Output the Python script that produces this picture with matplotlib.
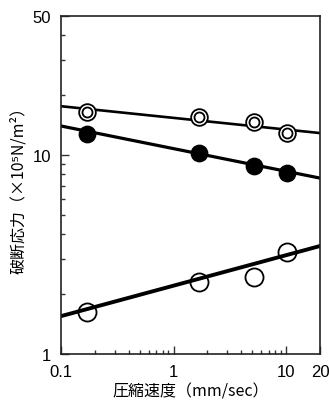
import numpy as np
import matplotlib
matplotlib.use("Agg")
import matplotlib.pyplot as plt
from matplotlib.ticker import LogLocator, FixedLocator, NullFormatter

# =========================
# データ
# =========================
speed = [0.17, 1.7, 5.2, 10.2]            # 圧縮速度 (mm/sec)
stress_double = [16.4, 15.5, 14.6, 12.9]  # 二重丸
stress_filled = [12.7, 10.2, 8.8, 8.1]    # 黒丸
stress_open = [1.63, 2.3, 2.44, 3.25]     # 白丸

# 回帰直線の両端 (x=0.1, x=20)
line_x = [0.1, 20]
line_double = [17.6, 12.9]
line_filled = [14.0, 7.66]
line_open = [1.55, 3.49]

xticks = [0.1, 1, 10, 20]
xtick_labels = ["0.1", "1", "10", "20"]
yticks = [1, 10, 50]
ytick_labels = ["1", "10", "50"]

plt.rcParams["font.family"] = ["Liberation Sans", "DejaVu Sans"]
jp = ["Noto Sans CJK JP", "DejaVu Sans"]

fig = plt.figure(figsize=(3.29, 4.02), dpi=100)
ax = fig.add_axes([0.1854, 0.1169, 0.7872, 0.8408])

ax.set_xscale("log")
ax.set_yscale("log")
ax.set_xlim(0.1, 20)
ax.set_ylim(1, 50)

# 直線
ax.plot(line_x, line_double, color="black", lw=1.9, zorder=2)
ax.plot(line_x, line_filled, color="black", lw=2.3, zorder=2)
ax.plot(line_x, line_open, color="black", lw=2.8, zorder=2)

# 二重丸
ax.plot(speed, stress_double, "o", ms=12.0, mfc="white", mec="black", mew=1.3, zorder=3)
ax.plot(speed, stress_double, "o", ms=7.2, mfc="none", mec="black", mew=1.3, zorder=4)
# 黒丸
ax.plot(speed, stress_filled, "o", ms=11.8, mfc="black", mec="black", mew=1.0, zorder=3)
# 白丸
ax.plot(speed, stress_open, "o", ms=13.0, mfc="none", mec="black", mew=1.3, zorder=3)

# 目盛り
ax.xaxis.set_major_locator(FixedLocator(xticks))
ax.set_xticklabels(xtick_labels)
ax.xaxis.set_minor_locator(LogLocator(base=10, subs=np.arange(2, 10)))
ax.xaxis.set_minor_formatter(NullFormatter())

ax.yaxis.set_major_locator(FixedLocator(yticks))
ax.set_yticklabels(ytick_labels)
ax.yaxis.set_minor_locator(LogLocator(base=10, subs=np.arange(2, 10)))
ax.yaxis.set_minor_formatter(NullFormatter())

ax.tick_params(which="both", direction="in", top=False, right=False,
               width=1.0, labelsize=12, color="#333333")
ax.tick_params(which="major", length=6, pad=7)
ax.tick_params(which="minor", length=3)

for s in ax.spines.values():
    s.set_linewidth(1.2)
    s.set_color("#222222")

ax.set_xlabel("圧縮速度（mm/sec）", family=jp, fontsize=11.5, labelpad=3)
ax.set_ylabel("破断応力（×10⁵N/m²）", family=jp, fontsize=11.5, labelpad=4)

fig.savefig("out.png", dpi=100)
